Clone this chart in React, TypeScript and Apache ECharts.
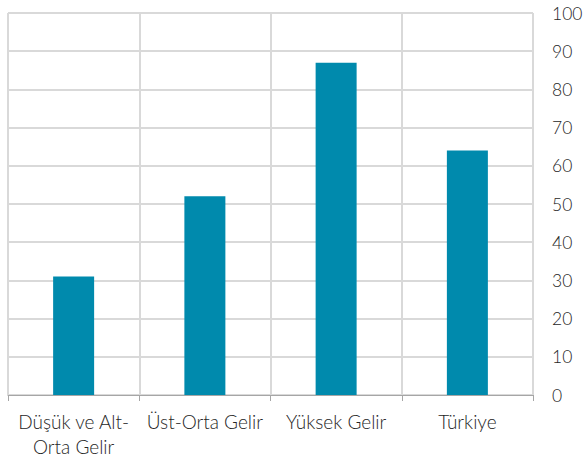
import React, { useEffect, useRef } from "react";
import * as echarts from "echarts";

const categories = ["Düşük ve Alt-\nOrta Gelir", "Üst-Orta Gelir", "Yüksek Gelir", "Türkiye"];
const values = [31, 52, 87, 64];
const yMin = 0;
const yMax = 100;
const yInterval = 10;

export default function App() {
  const ref = useRef<HTMLDivElement>(null);
  useEffect(() => {
    if (!ref.current) return;
    const chart = echarts.init(ref.current, null, { renderer: "svg" });
    chart.setOption({
      animation: false,
      grid: { left: 8, right: 54, top: 13, bottom: 69, containLabel: false },
      xAxis: {
        type: "category",
        data: categories,
        boundaryGap: true,
        axisLine: { show: true, lineStyle: { color: "#a6a6a6", width: 1 } },
        axisTick: { show: true, length: 6, lineStyle: { color: "#a6a6a6" } },
        splitLine: { show: true, lineStyle: { color: "#d9d9d9", width: 2 } },
        axisLabel: {
          color: "#262626",
          fontSize: 19,
          fontFamily: "Lato",
          fontWeight: 300,
          margin: 14,
          lineHeight: 25,
          interval: 0,
        },
      },
      yAxis: {
        type: "value",
        position: "right",
        min: yMin,
        max: yMax,
        interval: yInterval,
        axisLine: { show: false },
        axisTick: { show: false },
        splitLine: { show: true, lineStyle: { color: "#d9d9d9", width: 2 } },
        axisLabel: {
          color: "#262626",
          fontSize: 17.5,
          fontFamily: "Lato",
          fontWeight: 300,
          margin: 19,
          align: "left",
        },
      },
      series: [
        {
          type: "bar",
          data: values,
          barWidth: 41,
          itemStyle: { color: "#008aad" },
        },
      ],
    });
    return () => chart.dispose();
  }, []);
  return (
    <div
      ref={ref}
      style={{ position: "fixed", left: 0, top: 0, width: 587, height: 464, background: "#fff" }}
    />
  );
}
